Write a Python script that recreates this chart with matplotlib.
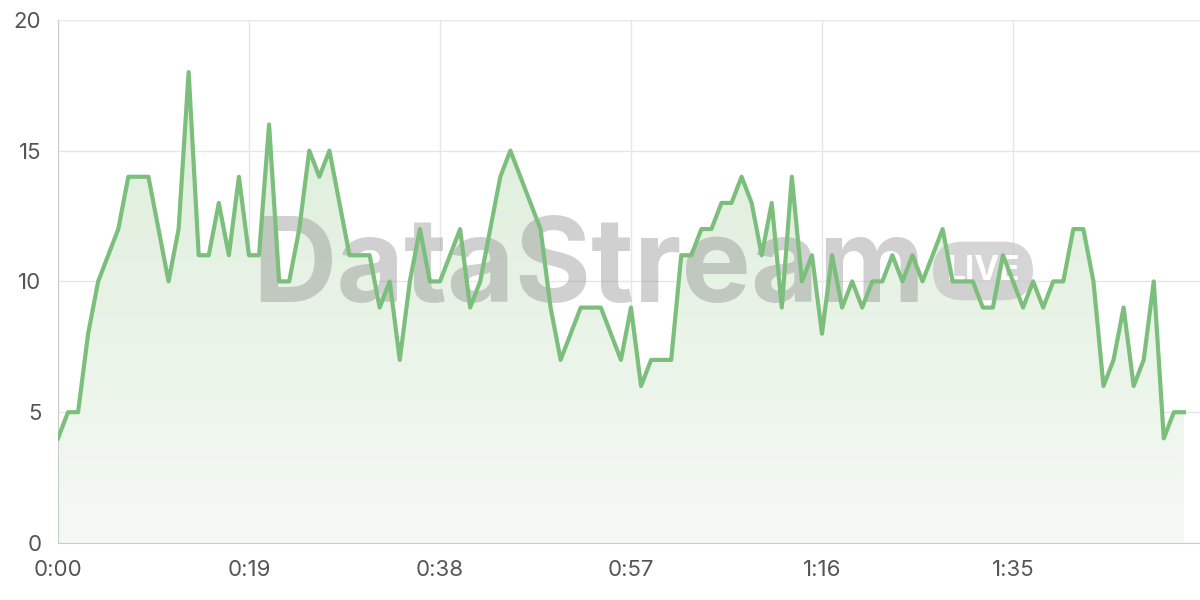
import matplotlib
matplotlib.use("Agg")
import matplotlib.pyplot as plt
import numpy as np
from matplotlib.patches import Polygon
from matplotlib.colors import LinearSegmentedColormap

values = [4,5,5,8,10,11,12,14,14,14,12,10,12,18,11,11,13,11,14,11,
          11,16,10,10,12,15,14,15,13,11,11,11,9,10,7,10,12,10,10,11,
          12,9,10,12,14,15,14,13,12,9,7,8,9,9,9,8,7,9,6,7,
          7,7,11,11,12,12,13,13,14,13,11,13,9,14,10,11,8,11,9,10,
          9,10,10,11,10,11,10,11,12,10,10,10,9,9,11,10,9,10,9,10,
          10,12,12,10,6,7,9,6,7,10,4,5,5]
seconds = list(range(len(values)))
tick_secs = [0,19,38,57,76,95]
tick_labels = ["0:00","0:19","0:38","0:57","1:16","1:35"]

plt.rcParams['font.family'] = ['Inter', 'DejaVu Sans']
fig = plt.figure(figsize=(12,6), dpi=100)
ax = fig.add_axes([0.0483,0.095,0.9517,0.872])
ax.set_xlim(0,113.6); ax.set_ylim(0,20)
green = "#7cbf7c"
grad = np.linspace(0,1,256).reshape(-1,1)
cmap = LinearSegmentedColormap.from_list("g",["#f5f9f4","#d9ecd6"])
im = ax.imshow(grad, extent=[0,113.6,0,20], origin="lower", aspect="auto", cmap=cmap, zorder=1)
poly = Polygon(list(zip(seconds,values))+[(seconds[-1],0),(0,0)], closed=True,
               transform=ax.transData, facecolor="none", edgecolor="none")
ax.add_patch(poly)
im.set_clip_path(poly)
ax.plot(seconds, values, color=green, lw=3, zorder=3)
ax.text(0.81,0.52,"LIVE", transform=ax.transAxes, ha="center", va="center",
        fontsize=24, fontweight="bold", color="white", zorder=2,
        bbox=dict(boxstyle="round,pad=0.4,rounding_size=0.9", fc="#c4c4c4", ec="none", alpha=0.7))
ax.text(0.465,0.52,"DataStream", transform=ax.transAxes, ha="center", va="center",
        fontsize=84, fontweight="bold", color="#8a8a8a", alpha=0.4, zorder=2)
ax.set_xticks(tick_secs); ax.set_xticklabels(tick_labels)
ax.set_yticks([0,5,10,15,20])
ax.grid(True, color="#e6e6e6", lw=1, zorder=0)
ax.set_axisbelow(True)
for s in ["top","right"]: ax.spines[s].set_visible(False)
ax.spines["left"].set_color("#cccccc"); ax.spines["bottom"].set_color("#cccccc")
ax.tick_params(length=0, labelsize=16, colors="#555555", pad=12)
fig.savefig("out.png", dpi=100)
